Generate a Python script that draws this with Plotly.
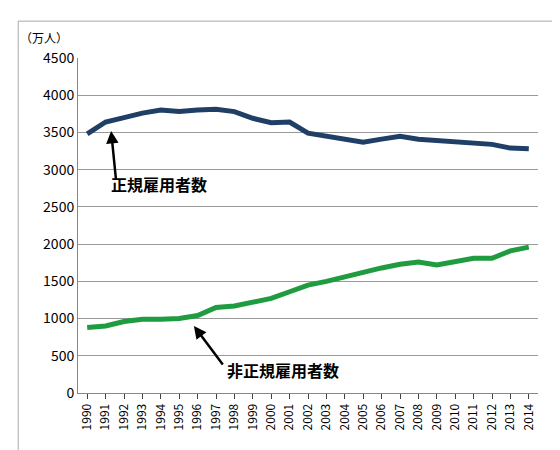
import plotly.graph_objects as go

years = list(range(1990, 2015))
regular = [3480, 3640, 3700, 3760, 3800, 3780, 3800, 3810, 3780, 3690, 3630, 3640, 3490, 3450, 3410,
           3370, 3410, 3450, 3410, 3390, 3370, 3350, 3340, 3290, 3280]
nonregular = [880, 900, 960, 990, 990, 1000, 1040, 1150, 1170, 1220, 1270, 1360, 1450, 1500, 1560,
              1630, 1680, 1730, 1760, 1720, 1760, 1810, 1810, 1910, 1960]

fig = go.Figure()
fig.add_trace(go.Scatter(x=years, y=regular, mode="lines", line=dict(color="#1f3f66", width=5)))
fig.add_trace(go.Scatter(x=years, y=nonregular, mode="lines", line=dict(color="#1e9c3f", width=5)))

font = "Noto Sans CJK JP"
fig.add_annotation(x=1991.3, y=3520, ax=5, ay=50, text="", showarrow=True,
                   arrowhead=2, arrowwidth=2.5, arrowcolor="black")
fig.add_annotation(x=1991.2, y=3000, text="<b>正規雇用者数</b>", showarrow=False,
                   xanchor="left", yanchor="top", font=dict(size=16, color="black", family=font))
fig.add_annotation(x=1995.8, y=900, ax=30, ay=40, text="", showarrow=True,
                   arrowhead=2, arrowwidth=2.5, arrowcolor="black")
fig.add_annotation(x=1997.5, y=500, text="<b>非正規雇用者数</b>", showarrow=False,
                   xanchor="left", yanchor="top", font=dict(size=16, color="black", family=font))
fig.add_annotation(xref="paper", yref="paper", x=-0.13, y=1.03, text="（万人）", showarrow=False,
                   xanchor="left", yanchor="bottom", font=dict(size=12, color="black", family=font))

fig.update_layout(
    width=560, height=450, showlegend=False, plot_bgcolor="white", paper_bgcolor="white",
    margin=dict(l=70, r=30, t=50, b=65),
    font=dict(family=font, size=13, color="black"),
    xaxis=dict(range=[1989.5, 2014.5], dtick=1, tickangle=-90, showline=True, linecolor="#888",
               ticks="outside", tickfont=dict(size=12), showgrid=False, zeroline=False),
    yaxis=dict(range=[0, 4500], dtick=500, showgrid=True, gridcolor="#999", showline=True,
               linecolor="#888", tickfont=dict(size=14), zeroline=False),
    shapes=[dict(type="rect", xref="paper", yref="paper", x0=-0.13, y0=-0.19, x1=1.05, y1=1.11,
                 line=dict(color="#aaa", width=1))],
)
fig.write_html("out.html")
